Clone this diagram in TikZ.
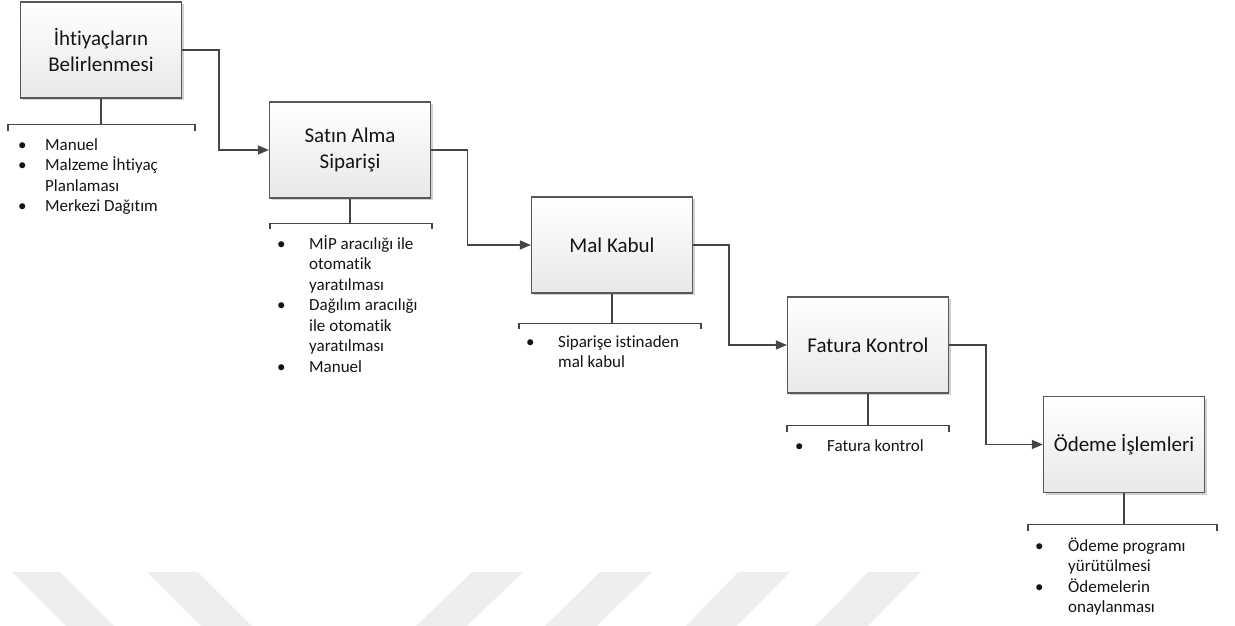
\documentclass[tikz,border=0pt]{standalone}
\usepackage{fontspec}
\setmainfont{Carlito}[Ligatures=NoCommon]
\usetikzlibrary{arrows.meta,shadows}
\definecolor{edge}{HTML}{595959}
\definecolor{wire}{HTML}{454545}
\definecolor{mark}{HTML}{EEEEEE}
\begin{document}
\begin{tikzpicture}[x=1pt,y=-1pt,
  stage/.style={draw=edge, line width=1.3pt, top color=white, bottom color=black!9,
    minimum width=161pt, minimum height=96pt, align=center, inner sep=0pt,
    font=\fontsize{21}{26.5}\selectfont, text=black!92,
    drop shadow={shadow xshift=2pt, shadow yshift=-2pt, fill=black, opacity=0.18}},
  flow/.style={wire, line width=1.4pt, -{Triangle[length=11pt,width=9pt]}},
  brace/.style={wire, line width=1.2pt},
  notes/.style={anchor=base west, inner sep=0pt, font=\fontsize{17}{20.5}\selectfont, text=black!92},
  stripe/.style={fill=mark, draw=none},
]
% page frame
\useasboundingbox (0,0) rectangle (1235,626);

% faint diagonal stripes along the bottom
\fill[stripe] (12,572) -- (60,572) -- (114,626) -- (66,626) -- cycle;
\fill[stripe] (147,572) -- (198,572) -- (252,626) -- (201,626) -- cycle;
\fill[stripe] (472,572) -- (523,572) -- (467,626) -- (416,626) -- cycle;
\fill[stripe] (600,572) -- (652,572) -- (597,626) -- (545,626) -- cycle;
\fill[stripe] (738,572) -- (790,572) -- (737,626) -- (686,626) -- cycle;
\fill[stripe] (868,572) -- (921,572) -- (868,626) -- (815,626) -- cycle;

% process stages
\node[stage] (b1) at (101,50)    {İhtiyaçların\\Belirlenmesi};
\node[stage] (b2) at (350,150)   {Satın Alma\\Siparişi};
\node[stage] (b3) at (612,245)   {Mal Kabul};
\node[stage] (b4) at (868,345)   {Fatura Kontrol};
\node[stage] (b5) at (1124,444.5) {Ödeme İşlemleri};

% stage-to-stage arrows
\draw[flow] (b1.east) -- ++(37,0) |- (b2.west);
\draw[flow] (b2.east) -- ++(36.5,0) |- (b3.west);
\draw[flow] (b3.east) -- ++(36,0) |- (b4.west);
\draw[flow] (b4.east) -- ++(37,0) |- (b5.west);

% brackets under each stage
\draw[brace] (b1.south) -- ++(0,26) coordinate (t1);
\draw[brace] (8,131) |- (t1) -| (195,131);
\draw[brace] (b2.south) -- ++(0,24.5) coordinate (t2);
\draw[brace] (270,229) |- (t2) -| (432,229);
\draw[brace] (b3.south) -- ++(0,30) coordinate (t3);
\draw[brace] (519,329) |- (t3) -| (701,329);
\draw[brace] (b4.south) -- ++(0,32) coordinate (t4);
\draw[brace] (787,432) |- (t4) -| (949,432);
\draw[brace] (b5.south) -- ++(0,31.5) coordinate (t5);
\draw[brace] (1028,531) |- (t5) -| (1217,531);

% bullet lists
\node[notes] (n1) at (18,150) {\begin{tabular}[t]{@{}p{27pt}@{}l@{}}
  • & Manuel\\
  • & Malzeme İhtiyaç\\
    & Planlaması\\
  • & Merkezi Dağıtım
\end{tabular}};
\node[notes] (n2) at (277,249) {\begin{tabular}[t]{@{}p{32pt}@{}l@{}}
  • & MİP aracılığı ile\\
    & otomatik\\
    & yaratılması\\
  • & Dağılım aracılığı\\
    & ile otomatik\\
    & yaratılması\\
  • & Manuel
\end{tabular}};
\node[notes] (n3) at (526,347) {\begin{tabular}[t]{@{}p{32pt}@{}l@{}}
  • & Siparişe istinaden\\
    & mal kabul
\end{tabular}};
\node[notes] (n4) at (795,451) {\begin{tabular}[t]{@{}p{32pt}@{}l@{}}
  • & Fatura kontrol
\end{tabular}};
\node[notes] (n5) at (1035,551) {\begin{tabular}[t]{@{}p{33pt}@{}l@{}}
  • & Ödeme programı\\
    & yürütülmesi\\
  • & Ödemelerin\\
    & onaylanması
\end{tabular}};
\end{tikzpicture}
\end{document}
